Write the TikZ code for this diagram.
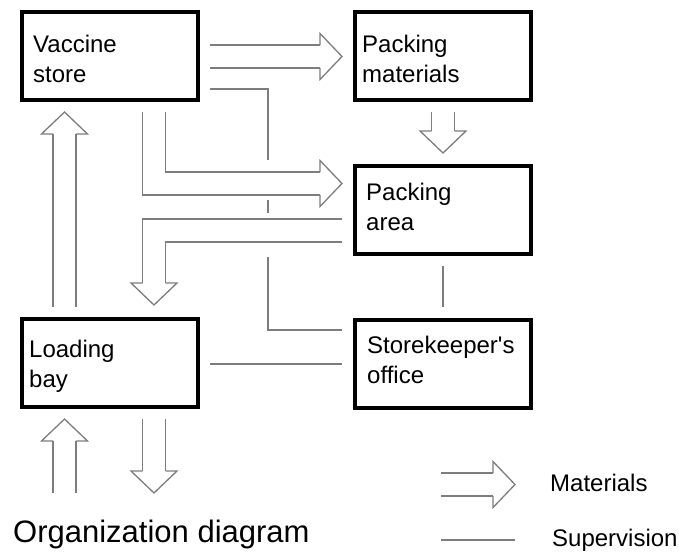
\documentclass[tikz,border=0pt]{standalone}
\usepackage{fontspec}
\setmainfont{Liberation Sans}[Ligatures=TeXOff]
\usetikzlibrary{calc}
\definecolor{lg}{RGB}{125,125,125}
% hollow arrow head: tip at #1, pointing along angle #2
\newcommand\matHead[2]{\draw[matline, shift={(#1)}, rotate=#2] (-22,11.5) -- (-22,23) -- (0,0) -- (-22,-23) -- (-22,-11.5);}
\begin{document}
\begin{tikzpicture}[x=1pt,y=-1pt,
  box/.style={draw=black, line width=4pt, minimum width=176pt, minimum height=88pt, inner sep=0pt, outer sep=0pt},
  boxtext/.style={anchor=north west, inner sep=0pt, align=left, font=\fontsize{24}{30}\selectfont},
  matflow/.style={draw=lg, line width=1.3pt, double=white, double distance=21.7pt, line join=miter},
  matline/.style={draw=lg, line width=1.3pt, line join=miter},
  supline/.style={draw=lg, line width=1.3pt}]
\useasboundingbox (0,0) rectangle (679,554);

% rooms
\node[box] (vs) at (110,55.5) {};
\node[box] (pm) at (442.5,55.5) {};
\node[box] (pa) at (442.5,209.5) {};
\node[box] (lb) at (110,363) {};
\node[box] (so) at (442.5,363.5) {};

\node[boxtext] (vst) at (33,34.8) {Vaccine\\store};
\node[boxtext] (pmt) at (362,34.5) {Packing\\materials};
\node[boxtext] (pat) at (366,182.5) {Packing\\area};
\node[boxtext] (lbt) at (29,339.8) {Loading\\bay};
\node[boxtext] (sot) at (367,335.8) {Storekeeper's\\office};

% end points of the material flows
\coordinate (a1s) at ($(vs.east)+(12,1)$);
\coordinate (a1t) at ($(pm.west)+(-12.5,1)$);
\coordinate (a2s) at ($(vs.south)+(44,12.5)$);
\coordinate (a2t) at ($(pa.west)+(-12.5,-26)$);
\coordinate (a3s) at ($(pa.west)+(-12.5,21)$);
\coordinate (a3t) at ($(lb.north)+(44,-14)$);
\coordinate (a4s) at ($(lb.north)+(-45.5,-12)$);
\coordinate (a4t) at ($(vs.south)+(-45.5,12.5)$);
\coordinate (a5s) at ($(pm.south)+(0.5,12.5)$);
\coordinate (a5t) at ($(pa.north)+(0.5,-12.5)$);
\coordinate (a6s) at ($(lb.south)+(-45.5,86)$);
\coordinate (a6t) at ($(lb.south)+(-45.5,12)$);
\coordinate (a7s) at ($(lb.south)+(44,12)$);
\coordinate (a7t) at ($(lb.south)+(44,86)$);

% material flows
\draw[matflow] (a1s) -- ($(a1t)+(-22,0)$); \matHead{a1t}{0}
\draw[matflow] (a2s) |- ($(a2t)+(-22,0)$); \matHead{a2t}{0}
\draw[matflow] (a3s) -| ($(a3t)+(0,-22)$); \matHead{a3t}{-90}
\draw[matflow] (a4s) -- ($(a4t)+(0,22)$);  \matHead{a4t}{90}
\draw[matflow] (a5s) -- ($(a5t)+(0,-22)$); \matHead{a5t}{-90}
\draw[matflow] (a6s) -- ($(a6t)+(0,22)$);  \matHead{a6t}{90}
\draw[matflow] (a7s) -- ($(a7t)+(0,-22)$); \matHead{a7t}{-90}

% supervision lines
\coordinate (sx) at (268,0);
\coordinate (s1a) at ($(vs.east)+(12,33.5)$);
\coordinate (s1b) at ($(so.west)+(-12.5,-33.5)$);
\draw[supline] (s1a) -- (s1a -| sx) -- ($(sx)+(0,160)$);
\draw[supline] ($(sx)+(0,200)$) -- ($(sx)+(0,213)$);
\draw[supline] ($(sx)+(0,257)$) -- (s1b -| sx) -- (s1b);
\draw[supline] ($(pa.south)+(0.5,12.5)$) -- ($(so.north)+(0.5,-12.5)$);
\draw[supline] ($(lb.east)+(12,1)$) -- ($(so.west)+(-12.5,0.5)$);

% legend
\coordinate (lga) at (441,484.5);
\coordinate (lgt) at (515,484.5);
\draw[matflow] (lga) -- ($(lgt)+(-22,0)$); \matHead{lgt}{0}
\node[anchor=base west, inner sep=0pt, font=\fontsize{24}{30}\selectfont] (legm) at (550,491) {Materials};
\coordinate (lsa) at (441,540);
\coordinate (lsb) at (515,540);
\draw[supline] (lsa) -- (lsb);
\node[anchor=base west, inner sep=0pt, font=\fontsize{24}{30}\selectfont] (legs) at (552,546) {Supervision};

\node[anchor=base west, inner sep=0pt, font=\fontsize{31}{36}\selectfont] (title) at (13,542) {Organization diagram};
\end{tikzpicture}
\end{document}
